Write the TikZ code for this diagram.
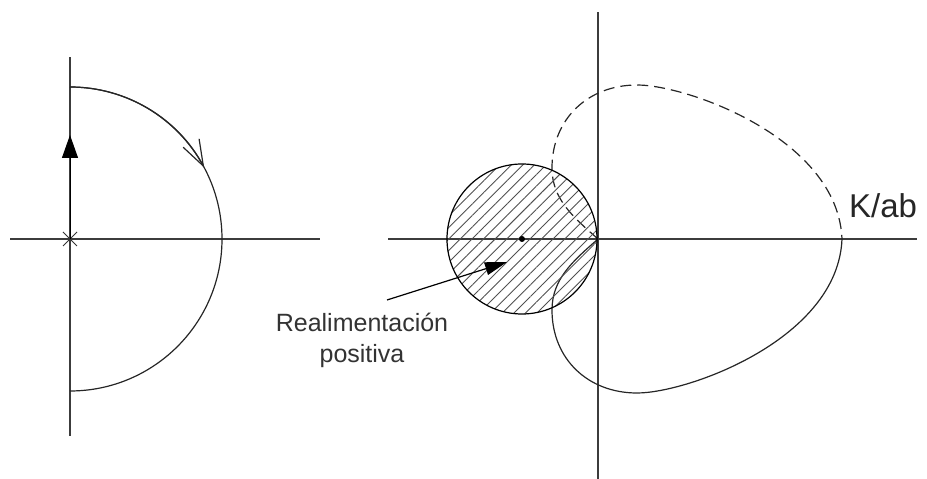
\documentclass[tikz,border=0pt]{standalone}
\usepackage{fontspec}
\setmainfont{Liberation Sans}
\usetikzlibrary{arrows.meta, patterns.meta}
\definecolor{axisgray}{RGB}{60,60,60}
\definecolor{hatchgray}{RGB}{80,80,80}
\newcommand{\nyqbranch}{(0,0) .. controls (-25,-22) and (-46,-40) .. (-46,-71)
  .. controls (-46,-120) and (-10,-154) .. (39,-154)
  .. controls (90,-154) and (240,-100) .. (244,0)}

\begin{document}
\begin{tikzpicture}[x=1pt, y=1pt,
  axis/.style={line width=1.8pt, axisgray},
  curve/.style={line width=1.2pt, black!85},
  hatched/.style={pattern={Lines[angle=45, distance=8.2pt, line width=0.9pt]}, pattern color=hatchgray}]
  \useasboundingbox (0,0) rectangle (927,479);

  % contour in the s-plane
  \coordinate (o1) at (70,240);
  \draw[axis] (10,240) -- (320,240);
  \draw[axis] (70,43) -- (70,422);
  \draw[line width=1pt, black!80] ([shift={(-7,-7)}]o1) -- ([shift={(7,7)}]o1);
  \draw[line width=1pt, black!80] ([shift={(-7,7)}]o1) -- ([shift={(7,-7)}]o1);
  \draw[line width=1pt, -{Triangle[length=23pt,width=16pt]}] (o1) -- (70,344);
  \draw[curve] (70,392) arc[start angle=90, end angle=-90, radius=152];
  \draw[curve, -{Straight Barb[length=26pt,width=18pt]}] (70,392) arc[start angle=90, end angle=28, radius=152];

  % Nyquist plot
  \coordinate (o2) at (598,240);
  \draw[axis] (388,240) -- (917,240);
  \draw[axis] (598,0) -- (598,467);
  \begin{scope}[shift={(o2)}]
    \draw[curve] \nyqbranch;
  \end{scope}
  \begin{scope}[shift={(o2)}, yscale=-1]
    \draw[curve, dash pattern=on 11pt off 6pt] \nyqbranch;
  \end{scope}
  \node[circle, draw, line width=1.2pt, inner sep=0, minimum size=150pt, hatched] (fbdisc) at (522,240) {};
  \node[circle, fill, inner sep=0, minimum size=6pt] (crit) at (fbdisc.center) {};

  \node[anchor=base west, inner sep=0, text=black!85, font=\fontsize{33}{40}\selectfont] (kab) at (849,261) {K/ab};
  \node[align=center, anchor=base, inner sep=0, text=black!80, font=\fontsize{25}{31}\selectfont] (fblabel) at (362,116) {Realimentación\\positiva};
  \coordinate (fbtail) at (387,179);
  \coordinate (fbtip) at (507,217);
  \draw[line width=1.2pt, -{Triangle[length=22pt,width=13pt]}] (fbtail) -- (fbtip);
\end{tikzpicture}
\end{document}
